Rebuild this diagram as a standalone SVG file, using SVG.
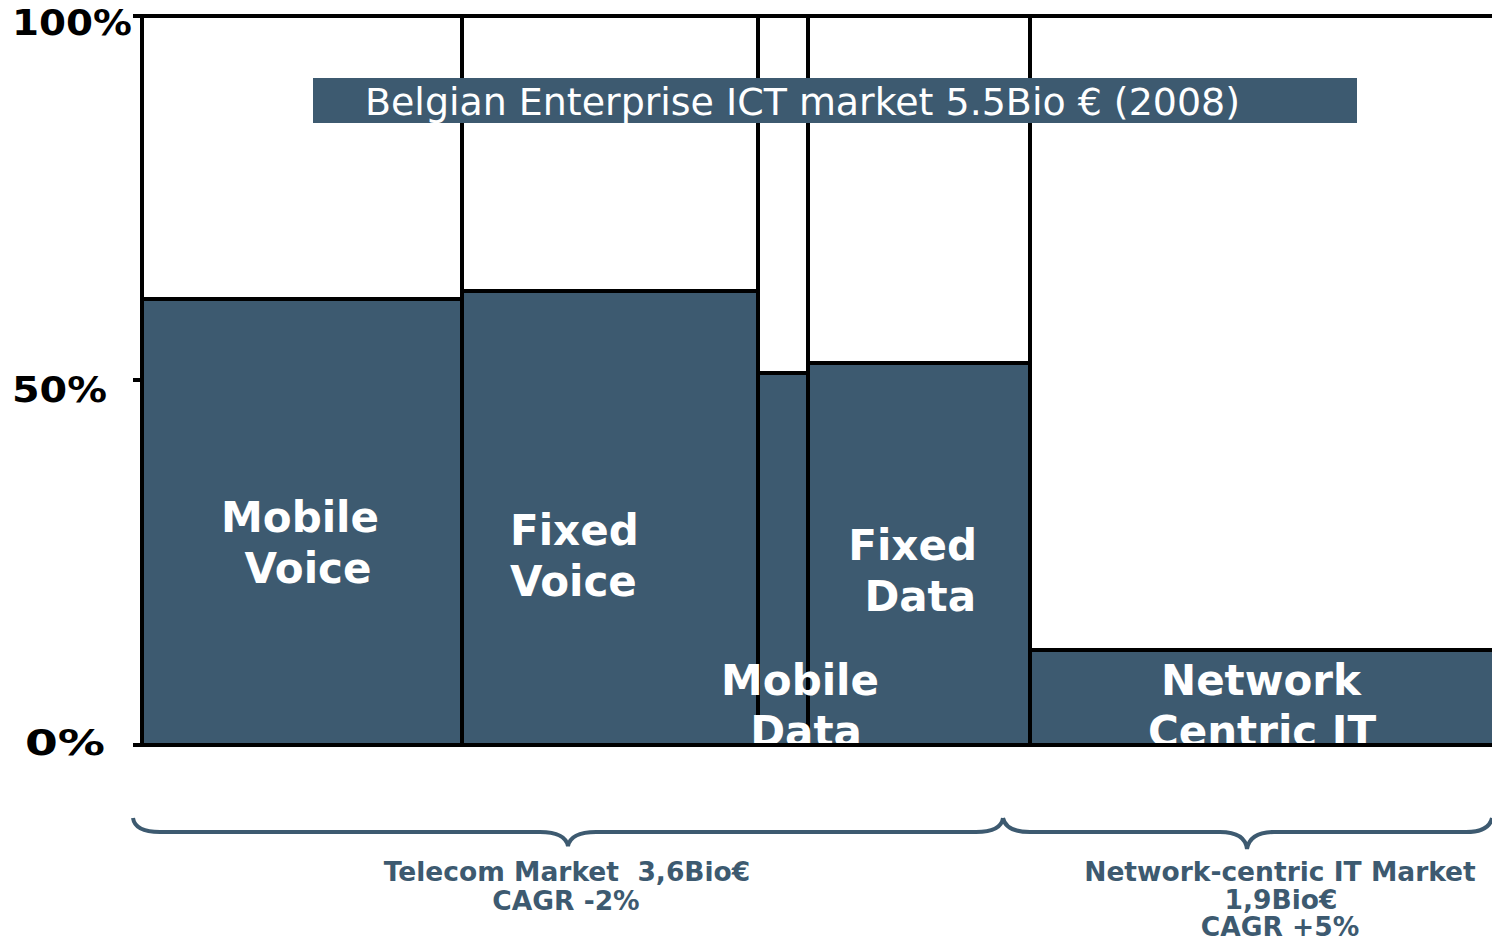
<svg xmlns="http://www.w3.org/2000/svg" width="1492" height="941" viewBox="0 0 1492 941">
<style>
.bar{fill:#3d5a70}
.ln{stroke:#000;stroke-width:4;fill:none}
.ax{font-family:"DejaVu Sans",Verdana,sans-serif;font-weight:bold;font-size:35px;fill:#000}
.lbl{font-family:"DejaVu Sans",Verdana,sans-serif;font-weight:bold;font-size:42px;fill:#fff}
.ttl{font-family:"DejaVu Sans",Verdana,sans-serif;font-size:37px;fill:#fff}
.br{stroke:#3d5a70;stroke-width:4;fill:none}
.bt{font-family:"DejaVu Sans",Verdana,sans-serif;font-weight:bold;font-size:26.5px;fill:#3d5a70;text-anchor:middle}
</style>
<rect width="1492" height="941" fill="#fff"/>
<g id="axis-labels">
<text class="ax" x="12" y="35" textLength="120" lengthAdjust="spacingAndGlyphs">100%</text>
<text class="ax" x="12" y="402" textLength="95" lengthAdjust="spacingAndGlyphs">50%</text>
<text class="ax" x="25" y="755" textLength="80" lengthAdjust="spacingAndGlyphs">0%</text>
</g>
<g id="mobile-voice">
<rect class="bar" x="142" y="299" width="320" height="446"/>
<line class="ln" x1="142" y1="299" x2="462" y2="299"/>
<text class="lbl" x="300" y="532" text-anchor="middle">Mobile</text>
<text class="lbl" x="308" y="583" text-anchor="middle">Voice</text>
</g>
<g id="fixed-voice">
<rect class="bar" x="462" y="291" width="296" height="454"/>
<line class="ln" x1="462" y1="291" x2="758" y2="291"/>
<text class="lbl" x="510" y="545">Fixed</text>
<text class="lbl" x="510" y="596">Voice</text>
</g>
<g id="mobile-data">
<rect class="bar" x="758" y="373" width="50" height="372"/>
<line class="ln" x1="758" y1="373" x2="808" y2="373"/>
</g>
<g id="fixed-data">
<rect class="bar" x="808" y="363" width="222" height="382"/>
<line class="ln" x1="808" y1="363" x2="1030" y2="363"/>
<text class="lbl" x="977" y="560" text-anchor="end">Fixed</text>
<text class="lbl" x="976" y="611" text-anchor="end">Data</text>
</g>
<g id="network-centric-it">
<rect class="bar" x="1030" y="650" width="462" height="95"/>
<line class="ln" x1="1030" y1="650" x2="1492" y2="650"/>
</g>
<g id="frame">
<line class="ln" x1="133" y1="16" x2="1492" y2="16"/>
<line class="ln" x1="142" y1="16" x2="142" y2="745"/>
<line class="ln" x1="462" y1="16" x2="462" y2="745"/>
<line class="ln" x1="758" y1="16" x2="758" y2="745"/>
<line class="ln" x1="808" y1="16" x2="808" y2="745"/>
<line class="ln" x1="1030" y1="16" x2="1030" y2="745"/>
<line class="ln" x1="133" y1="380" x2="142" y2="380"/>
</g>
<g id="overlay-labels">
<text class="lbl" x="800" y="695" text-anchor="middle">Mobile</text>
<text class="lbl" x="806" y="746" text-anchor="middle">Data</text>
<text class="lbl" x="1261" y="695" text-anchor="middle">Network</text>
<text class="lbl" x="1262" y="746" text-anchor="middle">Centric IT</text>
</g>
<line class="ln" x1="133" y1="745" x2="1492" y2="745"/>
<g id="title">
<rect x="313" y="78" width="1044" height="45" fill="#3d5a70"/>
<text class="ttl" x="365" y="115" textLength="875" lengthAdjust="spacingAndGlyphs">Belgian Enterprise ICT market 5.5Bio € (2008)</text>
</g>
<g id="braces">
<path class="br" d="M133,818 Q135,832 160,832 L540,832 Q565,832 568,846 Q571,832 596,832 L976,832 Q1001,832 1003,818"/>
<path class="br" d="M1003,818 Q1006,832 1030,832 L1220,832 Q1245,832 1247,849 Q1250,832 1274,832 L1466,832 Q1489,832 1492,818"/>
</g>
<g id="telecom-label">
<text class="bt" x="567" y="881" xml:space="preserve">Telecom Market  3,6Bio€</text>
<text class="bt" x="566" y="910">CAGR -2%</text>
</g>
<g id="it-label">
<text class="bt" x="1280" y="881">Network-centric IT Market</text>
<text class="bt" x="1281" y="909">1,9Bio€</text>
<text class="bt" x="1280" y="936">CAGR +5%</text>
</g>
</svg>
